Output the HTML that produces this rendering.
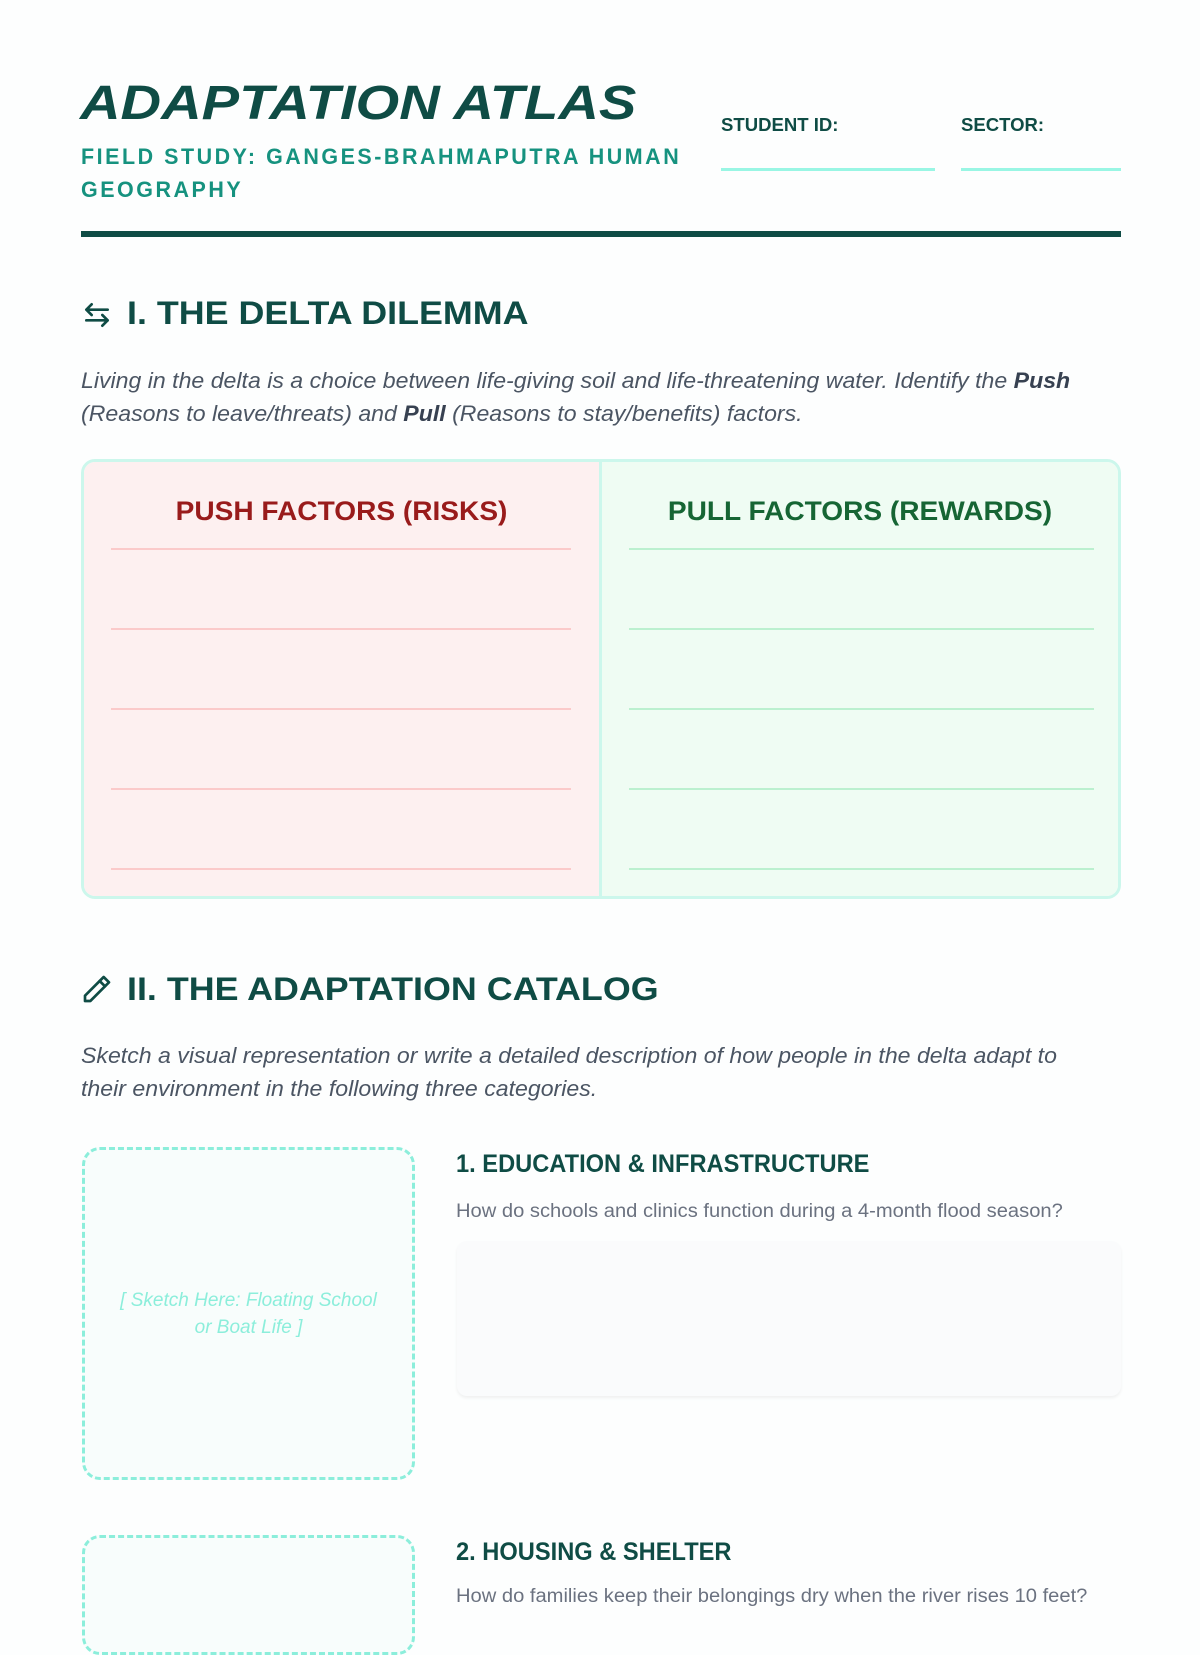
<!DOCTYPE html>
<html><head><meta charset="utf-8"><style>
*{box-sizing:border-box;margin:0;padding:0}
body{width:1200px;height:1600px;overflow:hidden;background:#fdfefe;font-family:"Liberation Sans",sans-serif;position:relative}
.a{position:absolute}
.title{left:80px;top:76px;font-size:48px;font-weight:bold;font-style:italic;color:#0f4c45;transform:scaleX(1.17);transform-origin:left}
.sub{left:81px;top:140px;width:640px;font-size:22px;font-weight:bold;color:#16927f;letter-spacing:2.6px;line-height:33px;transform:scaleX(0.975);transform-origin:left}
.lbl{font-size:18px;font-weight:bold;color:#0f4c45;transform:scaleX(1.03);transform-origin:left}
.uline{height:3px;background:#99f6e4}
.h2{font-size:32px;font-weight:bold;color:#0f4c45;transform:scaleX(1.12);transform-origin:left}
.p{font-size:22px;font-style:italic;color:#4b5563;line-height:33px;transform:scaleX(1.05);transform-origin:left;width:1000px}
.p b{color:#374151}
.col h3{font-size:27px;font-weight:bold;text-align:center;margin-top:34px;transform:scaleX(1.04)}
.h4{font-size:25px;font-weight:bold;color:#0f4c45;transform:scaleX(0.946);transform-origin:left}
.q{font-size:19px;color:#6b7280;transform:scaleX(1.06);transform-origin:left;white-space:nowrap}
</style></head><body>
<div class="a title">ADAPTATION ATLAS</div>
<div class="a sub">FIELD STUDY: GANGES-BRAHMAPUTRA HUMAN GEOGRAPHY</div>
<div class="a lbl" style="left:721px;top:115px">STUDENT ID:</div>
<div class="a uline" style="left:721px;top:168px;width:214px"></div>
<div class="a lbl" style="left:961px;top:115px">SECTOR:</div>
<div class="a uline" style="left:961px;top:168px;width:160px"></div>
<div class="a" style="left:81px;top:231px;width:1040px;height:6px;background:#0f4c45"></div>

<svg class="a" style="left:81px;top:299px" width="32" height="32" viewBox="0 0 24 24" fill="none" stroke="#0f4c45" stroke-width="2" stroke-linecap="round" stroke-linejoin="round"><path d="M4 8h16M8 4L4 8l4 4M20 16H4M16 12l4 4-4 4"/></svg>
<div class="a h2" style="left:127px;top:295px">I. THE DELTA DILEMMA</div>
<div class="a p" style="left:81px;top:364px">Living in the delta is a choice between life-giving soil and life-threatening water. Identify the <b>Push</b><br>(Reasons to leave/threats) and <b>Pull</b> (Reasons to stay/benefits) factors.</div>

<div class="a" style="left:81px;top:459px;width:1040px;height:440px;border:3px solid #ccf7ec;border-radius:14px;overflow:hidden;display:flex">
 <div class="col" style="width:518px;background:#fdf0f0;border-right:3px solid #ccf7ec;position:relative">
  <h3 style="color:#991b1b">PUSH FACTORS (RISKS)</h3>
  <div class="a" style="left:27px;top:86px;width:460px;height:324px;border-top:2px solid #fbcaca;background:repeating-linear-gradient(to bottom,transparent 0,transparent 78px,#fbcaca 78px,#fbcaca 80px)"></div>
 </div>
 <div class="col" style="flex:1;background:#effcf3;position:relative">
  <h3 style="color:#166534">PULL FACTORS (REWARDS)</h3>
  <div class="a" style="left:27px;top:86px;width:465px;height:324px;border-top:2px solid #bbf0cf;background:repeating-linear-gradient(to bottom,transparent 0,transparent 78px,#bbf0cf 78px,#bbf0cf 80px)"></div>
 </div>
</div>

<svg class="a" style="left:81px;top:973px" width="32" height="32" viewBox="0 0 24 24" fill="none" stroke="#0f4c45" stroke-width="2" stroke-linecap="round" stroke-linejoin="round"><path d="M17 3l4 4L7 21H3v-4z"/><path d="M14 6l4 4"/></svg>
<div class="a h2" style="left:127px;top:971px">II. THE ADAPTATION CATALOG</div>
<div class="a p" style="left:81px;top:1039px">Sketch a visual representation or write a detailed description of how people in the delta adapt to<br>their environment in the following three categories.</div>

<div class="a" style="left:82px;top:1147px;width:333px;height:333px;border:3px dashed #8ceedb;border-radius:18px;background:#f8fdfc;display:flex;align-items:center;justify-content:center;text-align:center;color:#8ceedb;font-style:italic;font-size:19px;line-height:27px;padding:0 30px">[ Sketch Here: Floating School or Boat Life ]</div>
<div class="a h4" style="left:456px;top:1150px">1. EDUCATION &amp; INFRASTRUCTURE</div>
<div class="a q" style="left:456px;top:1201px">How do schools and clinics function during a 4-month flood season?</div>
<div class="a" style="left:457px;top:1241px;width:664px;height:155px;background:#fafbfc;border-radius:10px;box-shadow:0 2px 3px rgba(0,0,0,0.06)"></div>

<div class="a" style="left:82px;top:1535px;width:333px;height:120px;border:3px dashed #8ceedb;border-radius:18px;background:#f8fdfc"></div>
<div class="a h4" style="left:456px;top:1538px">2. HOUSING &amp; SHELTER</div>
<div class="a q" style="left:456px;top:1586px">How do families keep their belongings dry when the river rises 10 feet?</div>
</body></html>
